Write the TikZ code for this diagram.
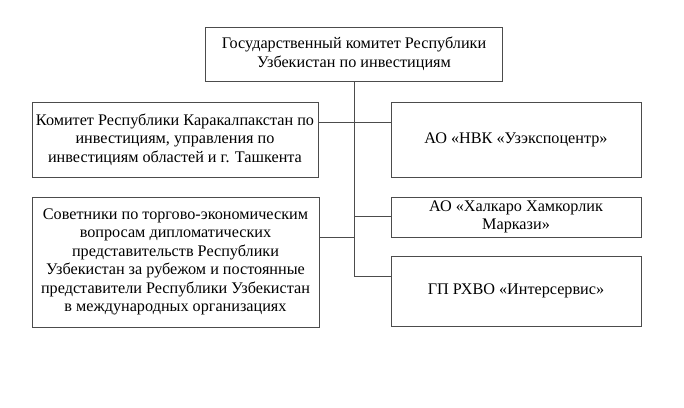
\documentclass[tikz,border=0pt]{standalone}
\usepackage{fontspec}
\setmainfont{Liberation Serif}
\definecolor{LineClr}{rgb}{0.3,0.3,0.3}

\begin{document}
\begin{tikzpicture}[x=1pt,y=-1pt,
  unit/.style={draw=LineClr,line width=0.8pt,inner sep=2pt,align=center,
    font=\fontsize{16.2}{18.5}\selectfont},
  link/.style={draw=LineClr,line width=0.8pt}]
\useasboundingbox (0,0) rectangle (684,407);

\node[unit,minimum width=297pt,minimum height=54pt] (G) at (354,54)
  {Государственный комитет Республики\\Узбекистан по инвестициям};
\node[unit,minimum width=286pt,minimum height=75pt] (K) at (175,139.5)
  {Комитет Республики Каракалпакстан по\\инвестициям, управления по\\инвестициям областей и г. Ташкента};
\node[unit,minimum width=287pt,minimum height=130pt] (S) at (175.5,262)
  {Советники по торгово-экономическим\\вопросам дипломатических\\представительств Республики\\Узбекистан за рубежом и постоянные\\представители Республики Узбекистан\\в международных организациях};
\node[unit,minimum width=250pt,minimum height=75pt] (U) at (516,139.5)
  {АО «НВК «Узэкспоцентр»};
\node[unit,minimum width=250pt,minimum height=40pt] (H) at (516,217)
  {АО «Халкаро Хамкорлик\\Маркази»};
\node[unit,minimum width=250pt,minimum height=70pt] (I) at (516,291)
  {ГП РХВО «Интерсервис»};

\coordinate (J1) at (354,122);
\coordinate (J2) at (354,216);
\coordinate (J3) at (354,237);
\coordinate (J4) at (354,276);

\draw[link] (G.south) -- (J4) -- (I.west |- J4);
\draw[link] (K.east |- J1) -- (U.west |- J1);
\draw[link] (J2) -- (H.west |- J2);
\draw[link] (S.east |- J3) -- (J3);

\end{tikzpicture}
\end{document}
